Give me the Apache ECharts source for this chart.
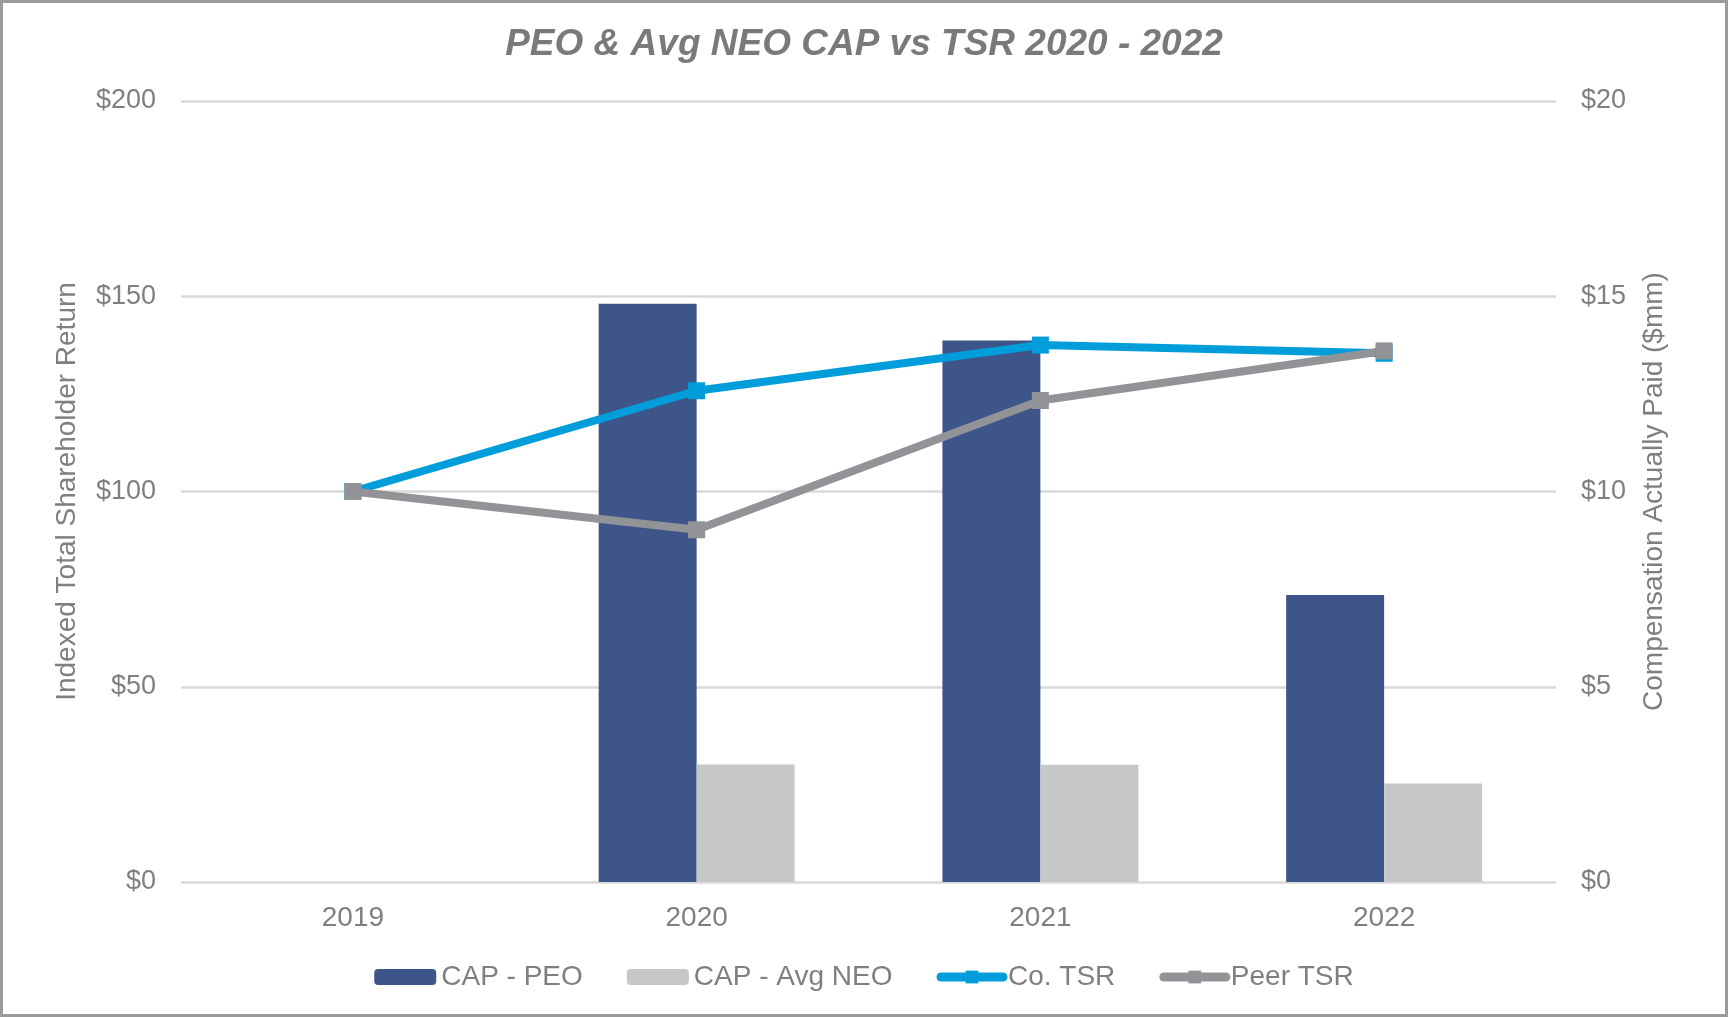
<!DOCTYPE html>
<html>
<head>
<meta charset="utf-8">
<script src="https://cdn.jsdelivr.net/npm/echarts@6/dist/echarts.min.js"></script>
<style>
html,body{margin:0;padding:0;background:#fff;}
#chart{width:1728px;height:1017px;}
</style>
</head>
<body>
<div id="chart"></div>
<script>
var categories = ['2019', '2020', '2021', '2022'];
var capPeo = [null, 14.81, 13.87, 7.35];
var capNeo = [null, 3.01, 3.00, 2.52];
var coTsr = [100, 125.8, 137.5, 135.4];
var peerTsr = [100, 90.2, 123.3, 136.0];
var leftTicks = [0, 200, 50];
var rightTicks = [0, 20, 5];

var txt = '#7f7f7f';
var font = "'Liberation Sans', Arial, sans-serif";
var chart = echarts.init(document.getElementById('chart'));
chart.setOption({
  animation: false,
  textStyle: {fontFamily: font},
  title: {
    text: 'PEO & Avg NEO CAP vs TSR 2020 - 2022',
    left: 'center',
    top: 21,
    textStyle: {fontSize: 37, fontWeight: 'bold', fontStyle: 'italic', color: '#7a7a7a', fontFamily: font}
  },
  graphic: [{
    type: 'rect',
    shape: {x: 1.5, y: 1.5, width: 1725, height: 1014},
    style: {fill: 'none', stroke: '#9b9b9b', lineWidth: 3},
    silent: true
  }],
  legend: {
    left: 'center',
    top: 958,
    itemWidth: 62,
    itemHeight: 16,
    itemGap: 44,
    lineStyle: {width: 9, cap: 'round'},
    textStyle: {fontSize: 28, color: txt, fontFamily: font},
    data: ['CAP - PEO', 'CAP - Avg NEO', 'Co. TSR', 'Peer TSR']
  },
  grid: {left: 181, right: 172, top: 101, bottom: 135},
  xAxis: {
    type: 'category',
    data: categories,
    axisLine: {show: false},
    axisTick: {show: false},
    axisLabel: {fontSize: 28, color: txt, margin: 22}
  },
  yAxis: [{
    type: 'value',
    min: leftTicks[0], max: leftTicks[1], interval: leftTicks[2],
    name: 'Indexed Total Shareholder Return',
    nameLocation: 'middle',
    nameGap: 100,
    nameTextStyle: {fontSize: 28, color: txt},
    axisLabel: {formatter: '${value}', fontSize: 27, color: txt, margin: 25},
    axisLine: {show: false},
    axisTick: {show: false},
    splitLine: {lineStyle: {color: '#d9d9d9', width: 2.5}}
  }, {
    type: 'value',
    min: rightTicks[0], max: rightTicks[1], interval: rightTicks[2],
    name: 'Compensation Actually Paid ($mm)',
    nameLocation: 'middle',
    nameGap: 84,
    nameTextStyle: {fontSize: 28, color: txt},
    axisLabel: {formatter: '${value}', fontSize: 27, color: txt, margin: 25},
    axisLine: {show: false},
    axisTick: {show: false},
    splitLine: {show: false}
  }],
  series: [{
    name: 'CAP - PEO',
    type: 'bar',
    yAxisIndex: 1,
    data: capPeo,
    barGap: '0%',
    barCategoryGap: '43%',
    itemStyle: {color: '#3d5588'}
  }, {
    name: 'CAP - Avg NEO',
    type: 'bar',
    yAxisIndex: 1,
    data: capNeo,
    barGap: '0%',
    barCategoryGap: '43%',
    itemStyle: {color: '#c6c7c9'}
  }, {
    name: 'Co. TSR',
    type: 'line',
    yAxisIndex: 0,
    data: coTsr,
    symbol: 'rect',
    symbolSize: 17,
    lineStyle: {color: '#009ddb', width: 8},
    itemStyle: {color: '#009ddb'}
  }, {
    name: 'Peer TSR',
    type: 'line',
    yAxisIndex: 0,
    data: peerTsr,
    symbol: 'rect',
    symbolSize: 17,
    lineStyle: {color: '#929397', width: 8},
    itemStyle: {color: '#929397'}
  }]
});
</script>
</body>
</html>
